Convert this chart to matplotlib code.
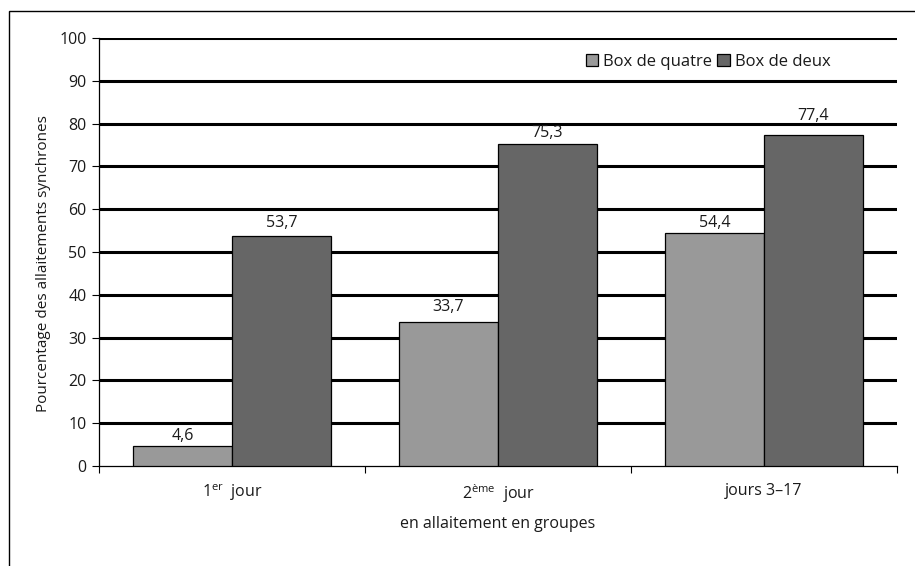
import matplotlib
matplotlib.use("Agg")
import matplotlib.pyplot as plt
import numpy as np
from matplotlib.patches import Rectangle

plt.rcParams['font.family'] = ['Open Sans', 'DejaVu Sans']
plt.rcParams['mathtext.fontset'] = 'custom'
plt.rcParams['mathtext.rm'] = 'Open Sans'
plt.rcParams['mathtext.it'] = 'Open Sans'

categories = ["1$^{\\mathrm{er}}$  jour", "2$^{\\mathrm{ème}}$  jour", "jours 3–17"]
series_names = ["Box de quatre", "Box de deux"]
box_quatre = [4.6, 33.7, 54.4]
box_deux = [53.7, 75.3, 77.4]
y_ticks = list(range(0, 101, 10))

# gap (in pixels) between each bar top and the baseline of its value label
label_gap_quatre = [6, 11, 6]
label_gap_deux = [9, 7, 15]

W, H = 915, 566
fig = plt.figure(figsize=(W / 100, H / 100), dpi=100)
ax = fig.add_axes([99 / W, 1 - 466 / H, (897 - 99) / W, (466 - 38) / H])

# outer frame (left and top edges visible)
fig.patches.append(Rectangle((8.5 / W, -0.1), 1.2, 1 - 10.5 / H + 0.1,
                             transform=fig.transFigure, fill=False,
                             edgecolor='black', linewidth=1.0))

TXT = '#1a1a1a'
FS = 11.5
x = np.arange(len(categories))
bw = 0.372
colors = ['#999999', '#666666']
for i, (vals, gaps, name) in enumerate(zip([box_quatre, box_deux],
                                           [label_gap_quatre, label_gap_deux],
                                           series_names)):
    pos = x + (i - 0.5) * bw
    bars = ax.bar(pos, vals, width=bw, color=colors[i], edgecolor='black',
                  linewidth=0.9, label=name, zorder=3)
    for b, v, g in zip(bars, vals, gaps):
        ax.annotate(f"{v:.1f}".replace('.', ','),
                    (b.get_x() + b.get_width() / 2, v),
                    xytext=(0, g * 0.72), textcoords='offset points',
                    ha='center', va='baseline', fontsize=FS, color=TXT, zorder=4)

ax.set_xlim(-0.5, len(categories) - 0.5)
ax.set_ylim(0, 100)
ax.set_yticks(y_ticks)
ax.set_yticklabels([str(t) for t in y_ticks], fontsize=FS, color=TXT)

for t in y_ticks[1:]:
    ax.axhline(t, color='black', linewidth=2.2, zorder=1)

ax.set_xticks(np.arange(len(categories) + 1) - 0.5, minor=False)
ax.set_xticklabels([''] * (len(categories) + 1))
ax.set_xticks(x, minor=True)
ax.set_xticklabels(categories, minor=True, fontsize=FS, color=TXT)
ax.tick_params(axis='x', which='major', length=5, width=0.8, direction='out')
ax.tick_params(axis='x', which='minor', length=0, pad=12)
ax.tick_params(axis='y', length=5, width=0.8, direction='out', pad=4)

for s in ['top', 'right']:
    ax.spines[s].set_visible(False)
ax.spines['left'].set_linewidth(0.9)
ax.spines['bottom'].set_linewidth(0.9)

ax.set_xlabel("en allaitement en groupes", fontsize=FS, color=TXT, labelpad=8)
ax.set_ylabel("Pourcentage des allaitements synchrones", fontsize=11, color=TXT)
ax.yaxis.set_label_coords(-0.06, 0.474)

leg = ax.legend(loc='center right', bbox_to_anchor=(0.925, 0.944), ncol=2,
                frameon=False, fontsize=12, handlelength=0.75, handleheight=0.75,
                handletextpad=0.3, columnspacing=0.3, borderaxespad=0)
for t in leg.get_texts():
    t.set_color(TXT)

fig.savefig("out.png", dpi=100, facecolor='white')
